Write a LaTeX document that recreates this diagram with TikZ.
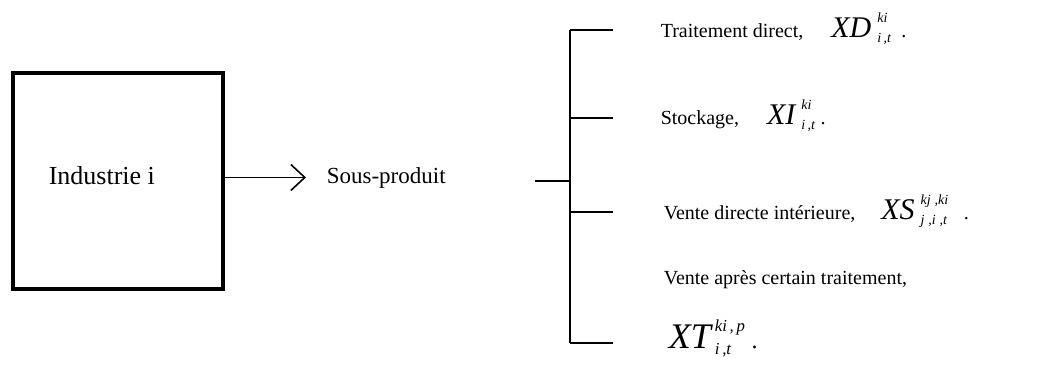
\documentclass[tikz,border=0pt]{standalone}
\usepackage{amsmath}
\usepackage{fontspec}
\setmainfont{Liberation Serif}
\usetikzlibrary{arrows.meta,positioning}

\newcommand{\bigvar}[2][30]{\text{\fontsize{#1}{#1}\selectfont\itshape #2}}
\newcommand{\xvar}[5][30]{$\bigvar[#1]{#2}#3{\vphantom{\bigvar[#1]{X}}}^{\textit{#4}}_{\textit{#5}}$}

\tikzset{
  choice/.style={anchor=base west, inner sep=0pt, font=\fontsize{20}{24}\selectfont},
}

\begin{document}
\begin{tikzpicture}[x=1pt, y=-1pt, >={Straight Barb[length=14pt,width=26pt]}, line width=1.6pt]
    \useasboundingbox (0,0) rectangle (1055,367);

    % Industry box
    \node[draw, line width=4pt, minimum width=210pt, minimum height=216pt] (industrie) at (118,181) {};
    \node[choice, font=\fontsize{26}{30}\selectfont] (indtext) at (48,184) {Industrie i};

    % By-product
    \node[choice, font=\fontsize{23}{28}\selectfont] (sousproduit) at (326,183) {Sous-produit};
    \draw[->, shorten >=20pt] (industrie.east |- sousproduit.west) -- (sousproduit.west);

    % Bracket
    \coordinate (fork) at (535,181);
    \coordinate (spine) at (570,181);
    \draw (fork) -- (spine);
    \draw (570,30) -- (570,343);
    \foreach \y in {30, 118, 212, 343}
        \draw (570,\y) -- (613,\y);

    % Outlets
    \node[choice] (direct) at (660,37) {Traitement direct,\hspace{28pt}\xvar{XD}{\hspace{6pt}}{ki}{i\,,t}\ \ .};
    \node[choice] (stock) at (660,124) {Stockage,\hspace{28pt}\xvar{XI}{\hspace{6pt}}{ki}{i\,,t}\ .};
    \node[choice] (vente) at (663,219) {Vente directe intérieure,\hspace{26pt}\xvar{XS}{\hspace{6pt}}{kj\;,ki}{j\;,i\;,t}\ \ \ .};
    \node[choice] (apres) at (663,284) {Vente après certain traitement,};
    \node[choice, font=\fontsize{24}{28}\selectfont] (transf) at (668,348) {\xvar[36]{XT}{\hspace{4pt}}{ki\,,\,p}{i\,,t}\ .};
\end{tikzpicture}
\end{document}
